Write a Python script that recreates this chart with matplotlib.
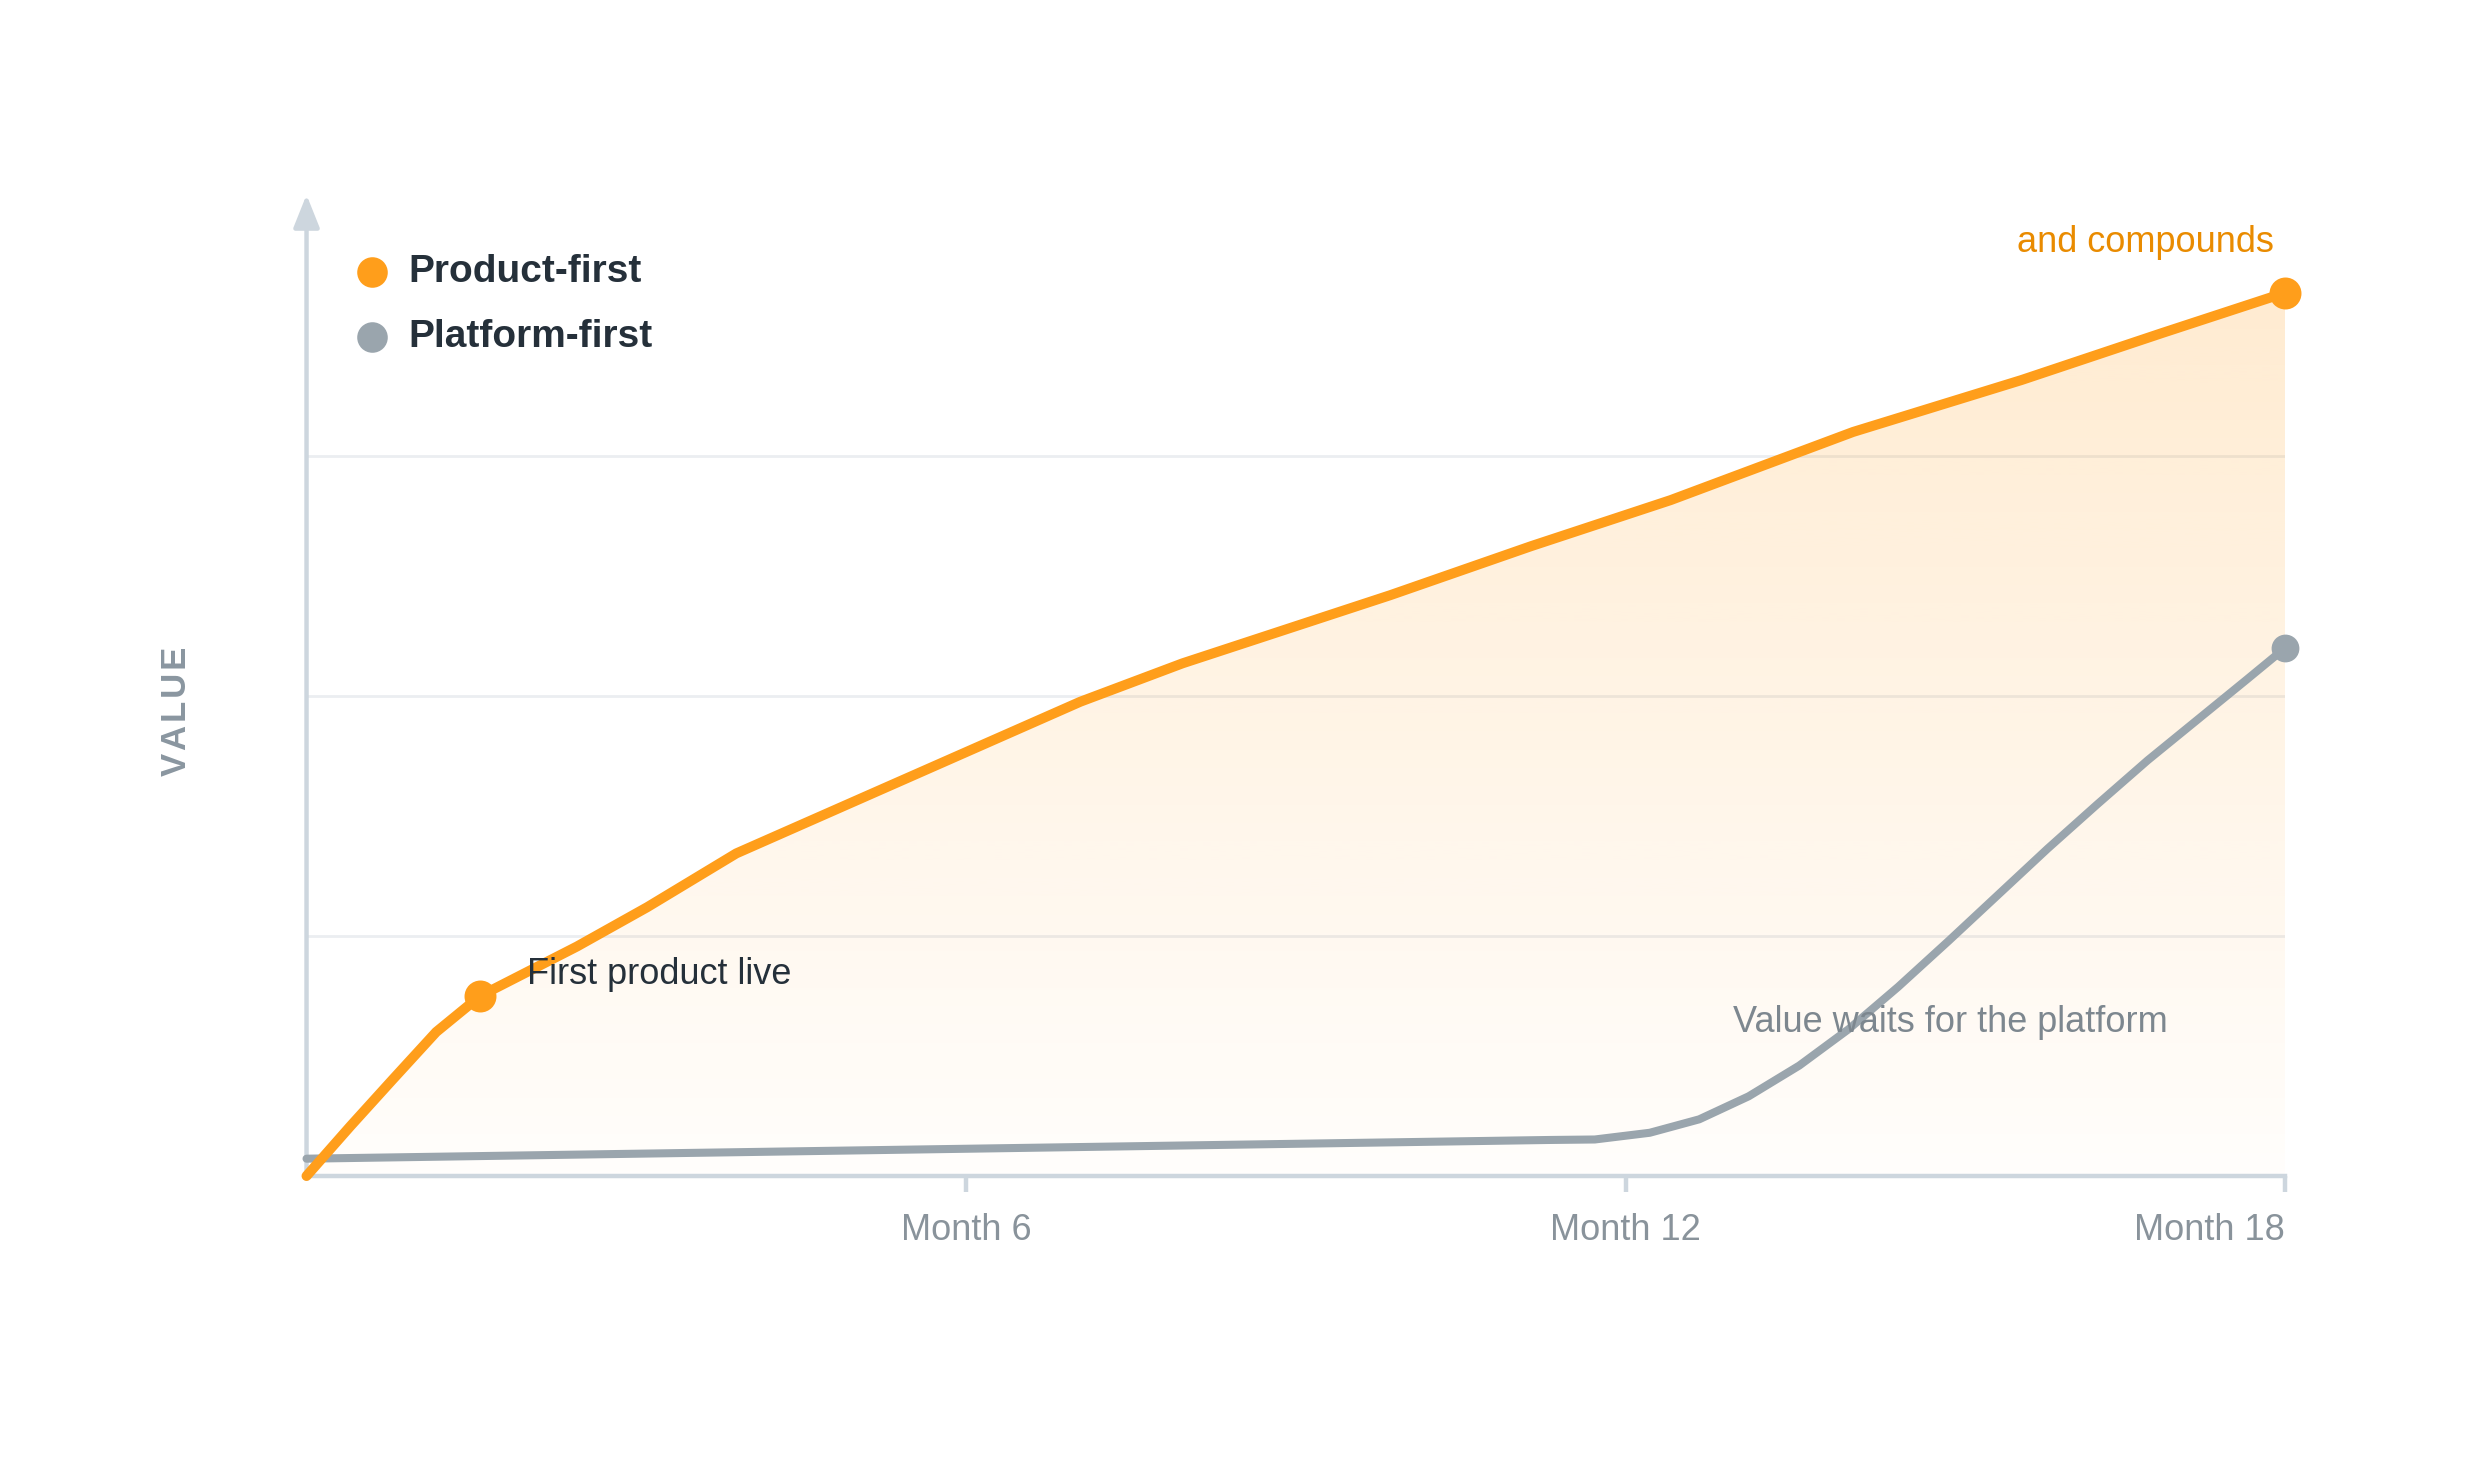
import matplotlib
matplotlib.use('Agg')
import matplotlib.pyplot as plt
import numpy as np

# Values (months, value on a 0-100 scale)
product_months = [0, 0.4, 0.78, 1.18, 1.58, 2.46, 3.1, 3.91, 7.04, 7.97,
                  9.86, 11.14, 12.41, 14.07, 15.6, 16.88, 18]
product_values = [0, 5.2, 10, 15, 18.75, 23.9, 28, 33.6, 49.4, 53.4,
                  60.5, 65.6, 70.4, 77.5, 82.9, 87.8, 92]
platform_months = [0, 11.31, 11.72, 12.22, 12.67, 13.12, 13.58, 14.03, 14.48,
                   14.94, 15.39, 15.84, 16.29, 16.75, 17.2, 17.65, 18]
platform_values = [1.8, 3.75, 3.8, 4.5, 5.9, 8.3, 11.5, 15.3, 19.7,
                   24.5, 29.3, 34.1, 38.7, 43.3, 47.5, 51.7, 55]

tick_months = [6, 12, 18]
tick_labels = ['Month 6', 'Month 12', 'Month 18']
grid_values = [25, 50, 75]

series_names = ['Product-first', 'Platform-first']

ORANGE = '#FF9E1B'
GREY = '#9AA5AD'
AXIS = '#CDD6DE'
DARK = '#25303A'
MUTED = '#89939B'

plt.rcParams['font.family'] = ['Liberation Sans', 'DejaVu Sans']


def plotData():
    """ Draw the two growth curves with gradient fill and notes. """
    fig = plt.figure(figsize=(12.36, 7.41), dpi=200)
    ax = fig.add_axes([0.124, 0.2065, 0.8004, 0.6478])
    ax.set_xlim(0, 18)
    ax.set_ylim(0, 100)

    # Grid lines
    for g in grid_values:
        ax.axhline(g, color='#EBEEF1', lw=1.0, zorder=1)

    # Gradient fill under the product line
    poly = ax.fill_between(product_months, product_values, 0,
                           facecolor='none', edgecolor='none')
    grad = np.zeros((256, 1, 4))
    grad[:, 0, :3] = matplotlib.colors.to_rgb(ORANGE)
    grad[:, 0, 3] = np.linspace(0.22, 0.015, 256)
    im = ax.imshow(grad, extent=[0, 18, 0, 100], aspect='auto',
                   origin='upper', zorder=2, interpolation='bilinear')
    im.set_clip_path(poly.get_paths()[0], ax.transData)

    # Lines
    ax.plot(platform_months, platform_values, color=GREY, lw=2.9,
            solid_capstyle='round', solid_joinstyle='round',
            zorder=4, clip_on=False)
    ax.plot(product_months, product_values, color=ORANGE, lw=3.6,
            solid_capstyle='round', solid_joinstyle='round',
            zorder=5, clip_on=False)

    # Markers
    ax.plot([product_months[4], product_months[-1]],
            [product_values[4], product_values[-1]], 'o', color=ORANGE,
            ms=10.5, zorder=6, clip_on=False)
    ax.plot(platform_months[-1], platform_values[-1], 'o', color=GREY,
            ms=9, zorder=6, clip_on=False)

    # Annotations
    ax.text(2.01, 21.0, 'First product live', fontsize=13, color=DARK,
            va='center', ha='left', zorder=7)
    ax.text(12.98, 16.0, 'Value waits for the platform', fontsize=13,
            color='#7D878F', va='center', ha='left', zorder=7)
    ax.text(17.9, 97.2, 'and compounds', fontsize=13, color='#E98B00',
            va='center', ha='right', zorder=7)

    # Axes styling
    for s in ['top', 'right', 'left']:
        ax.spines[s].set_visible(False)
    ax.spines['bottom'].set_color(AXIS)
    ax.spines['bottom'].set_linewidth(1.6)
    ax.spines['bottom'].set_zorder(3)
    ax.set_yticks([])
    ax.set_xticks(tick_months)
    ax.set_xticklabels(tick_labels)
    ax.tick_params(axis='x', length=5.8, width=1.6, color=AXIS, pad=7.5,
                   labelsize=13, labelcolor=MUTED)
    ax.get_xticklabels()[-1].set_horizontalalignment('right')

    # Y axis arrow
    ax.annotate('', xy=(0, 102.2), xytext=(0, -0.3),
                arrowprops=dict(arrowstyle='-|>,head_length=1.0,head_width=0.4',
                                color=AXIS, lw=1.6, mutation_scale=10,
                                shrinkA=0, shrinkB=0),
                annotation_clip=False, zorder=3)

    fig.text(0.0714, 0.5202, 'V A L U E'.replace(' ', '\u200a'), rotation=90,
             fontsize=12.5, fontweight='bold', color='#8A96A0',
             ha='center', va='center',
             family=['Liberation Sans', 'DejaVu Sans'])

    # Legend
    colors = [ORANGE, GREY]
    ys = [0.8165, 0.7725]
    for name, c, y in zip(series_names, colors, ys):
        fig.lines.append(matplotlib.lines.Line2D([0.1505], [y], marker='o',
                         color=c, ms=10, transform=fig.transFigure))
        fig.text(0.165, y, name, fontsize=14, fontweight='bold', color=DARK,
                 ha='left', va='center')

    fig.savefig('out.png', dpi=200, facecolor='white')


if __name__ == "__main__":
    plotData()
